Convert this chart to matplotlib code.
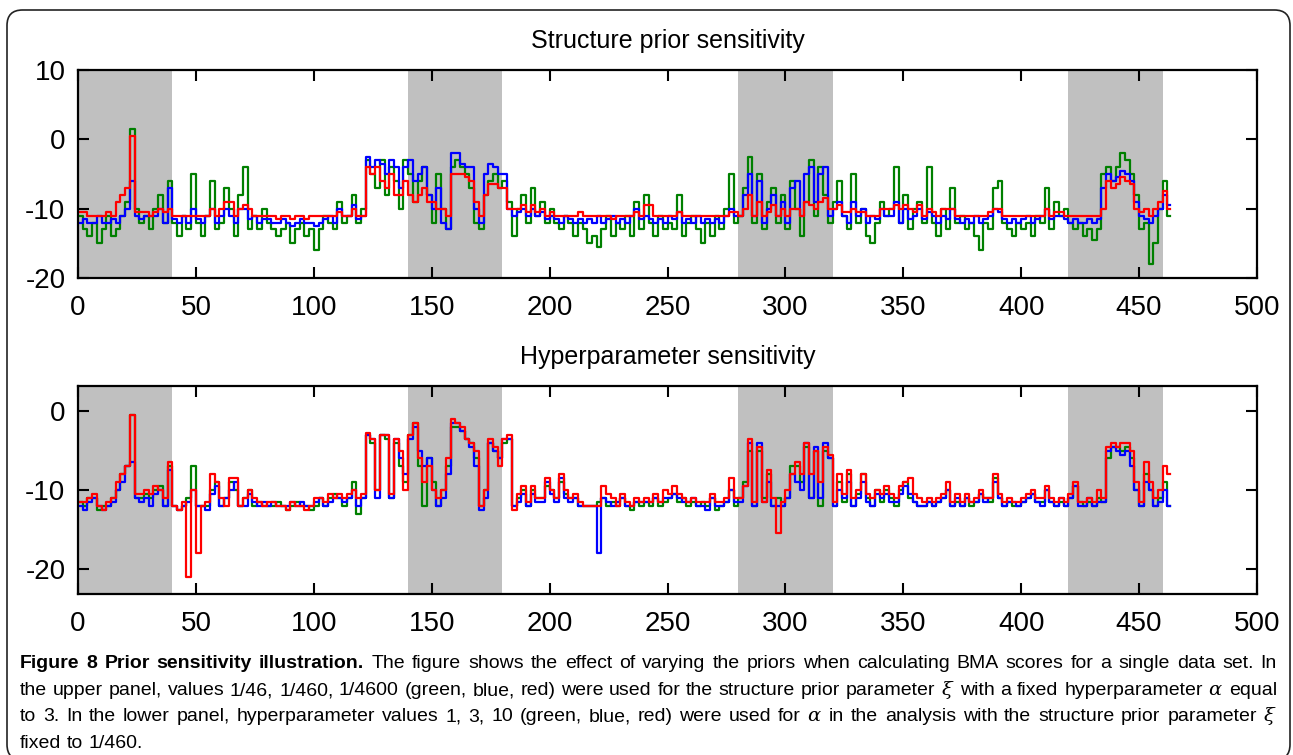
import numpy as np
import matplotlib
matplotlib.use("Agg")
import matplotlib.pyplot as plt
from matplotlib import font_manager as fm
from matplotlib.patches import FancyBboxPatch

# ---------------------------------------------------------------- data
# BMA scores sampled every second position along the sequence
positions = np.arange(1, 464, 2)

# upper panel: structure prior 1/46 (green), 1/460 (blue), 1/4600 (red)
top_green = [
    -11, -13, -14, -12, -15, -13, -11, -14, -13, -11, -9, 1.5, -10, -12, -11, -13, -10, -8, -12, -6,
    -12, -14, -11, -13, -5, -12, -14, -11, -6, -13, -12, -7, -10, -14, -8, -4, -13, -11, -13, -10,
    -12, -13, -14, -13, -12, -15, -13, -12, -14, -13, -16, -13, -11, -12, -13, -9, -12, -11, -8, -12,
    -10, -3, -5, -7, -3, -8, -4, -6, -10, -3, -5, -9, -6, -4, -8, -12, -5, -10, -13, -4,
    -3, -4, -5, -7, -12, -13, -8, -6, -5, -7, -6, -9, -14, -10, -8, -12, -7, -11, -9, -12,
    -10, -12, -13, -11, -12, -14, -12, -13, -15, -14, -15.5, -13, -11, -14, -12, -13, -11, -14, -9, -13,
    -8, -12, -14, -11, -13, -12, -13, -8, -14, -12, -11, -13, -15, -12, -14, -11, -13, -10, -5, -12,
    -11, -7, -2.5, -12, -5, -13, -9, -7, -12, -8, -13, -6, -10, -14, -9, -3, -11, -4, -8, -12,
    -9, -6, -11, -13, -5, -12, -10, -14, -15, -12, -9, -11, -10, -4, -12, -8, -13, -10, -9, -12,
    -4, -12, -14, -10, -13, -7, -12, -11, -13, -12, -14, -16, -12, -13, -7, -6, -12, -13, -14, -12,
    -13, -12, -14, -11, -12, -7, -13, -9, -11, -10, -12, -13, -12, -14, -13, -14.5, -13, -5, -4, -6,
    -4, -2, -3, -5, -8, -13, -12, -18, -15, -10, -6, -11,
]
top_blue = [
    -12, -11.5, -12, -12, -11, -12, -12, -11.5, -12, -11, -10, -6, -11, -11.5, -11, -11, -11, -10, -12, -7,
    -11.5, -12, -11, -12, -10, -11.5, -12, -11, -10, -12, -11, -10, -11, -12, -10, -10, -11.5, -11, -12, -11.5,
    -11.5, -12, -12, -11.5, -12, -12.5, -12, -11.5, -12, -12, -12.5, -12, -11.5, -11, -12, -10, -11, -11, -9.5, -11.5,
    -11, -2.5, -4, -3, -3.5, -5, -3, -4, -7, -4, -3, -6, -5, -4, -8, -10, -7, -12, -13, -2,
    -2, -3.5, -4, -4, -10, -12, -5, -3.5, -4, -5, -5, -10, -11, -10.5, -10, -11, -10, -11, -10.5, -11.5,
    -11, -11.5, -12, -11, -11.5, -12, -11.5, -12, -11.5, -12, -11, -12, -11.5, -11, -12, -11.5, -12, -11, -10, -11.5,
    -11, -11.5, -12, -11.5, -12, -11, -11.5, -10.5, -12, -11.5, -12, -11, -12, -11.5, -12, -11.5, -12, -11, -10, -11,
    -11, -8, -5, -11, -6, -12, -10, -8, -11, -9, -12, -7, -6, -11, -5, -4, -9, -5, -4, -11,
    -10, -9, -11, -12, -9, -11, -10, -12, -11, -11.5, -10, -11, -11, -9, -12, -10, -11.5, -11, -10, -11.5,
    -10.5, -11, -12, -11, -11.5, -10, -11.5, -12, -11.5, -12, -11, -12, -11.5, -11, -10, -10.5, -11.5, -12, -11.5, -12,
    -11.5, -11, -12, -11.5, -11, -10, -11.5, -11, -11, -11.5, -12, -11.5, -12, -12, -11.5, -12, -11.5, -7, -5, -6,
    -5.5, -4.5, -5, -6, -9, -11, -11.5, -12, -11, -10, -8, -9.5,
]
top_red = [
    -10.5, -10.5, -11, -11, -11, -11, -10.5, -11, -9, -8, -7, 0.5, -10.5, -10.5, -10.5, -11, -10.5, -10, -10.5, -10,
    -11, -11, -11, -11, -11, -11, -11, -11, -10, -11, -10, -9, -9, -11, -10, -9.5, -10, -11, -11, -11,
    -11, -11, -11.5, -11, -11, -11.5, -11, -11, -11.5, -11, -11, -11, -11, -11, -11, -10.5, -11, -11, -10, -11,
    -11, -4, -5, -4, -6, -7, -5, -8, -8, -6, -8, -9, -8, -7, -9, -9, -10, -10, -11, -5,
    -5, -5, -5.5, -6, -9, -11, -8, -6.5, -6.5, -7, -7, -10, -10, -10, -9.5, -10.5, -9.5, -10.5, -10, -11,
    -10.5, -11, -11, -11, -11, -11, -10.5, -11, -11, -11, -11, -11, -11, -11.5, -11, -11, -11, -11, -10.5, -11,
    -9.5, -9.5, -11, -11, -11, -11, -11, -10.5, -11, -11, -11, -11, -11, -11, -11, -11, -11, -11, -10.5, -10.5,
    -11, -10, -8, -11, -9, -11, -10.5, -9.5, -11, -10, -11, -10, -10, -11, -9, -9.5, -10, -9, -8.5, -10,
    -10, -9.5, -10.5, -10.5, -10, -10.5, -10.5, -11, -11, -11, -10, -10, -10, -9.5, -10, -9.5, -10, -10.5, -9.5, -11,
    -10, -10.5, -11, -10, -10, -10, -11, -11, -11, -11, -11, -11, -11, -10.5, -10, -10, -11, -11, -11, -11,
    -11, -11, -11, -11, -11, -10, -11, -10.5, -10.5, -11, -11, -11, -11, -11, -11, -11, -11, -10, -6, -7,
    -6.5, -5.5, -6, -6.5, -10, -10.5, -10, -11, -10, -9, -7.5, -10,
]

# lower panel: hyperparameter 1 (green), 3 (blue), 10 (red)
hyp_green = [
    -11.5, -12, -11, -11, -12.5, -12, -12, -11, -10, -8, -7, -0.5, -11, -11, -10.5, -11, -10, -9.5, -12, -7,
    -12, -12.5, -12, -11, -7, -12, -12, -12, -10, -9, -12, -11, -9, -10, -12, -11, -10, -12, -11.5, -12,
    -12, -12, -11.5, -12, -12.5, -12, -11.5, -12, -12, -12.5, -12, -11, -12, -11, -10.5, -11, -12, -11, -9, -13,
    -11, -3, -4, -10, -3, -3.5, -11, -4, -7, -9, -3, -1.5, -7, -12, -6, -9, -12, -10, -7, -2,
    -2, -2.5, -3.5, -4, -6, -12, -10, -4, -5, -6, -4, -3.5, -12, -11, -10, -12, -10, -11, -11, -9.5,
    -10, -11, -9, -10.5, -11, -11, -12, -12, -12, -12, -11.5, -11, -12, -11.5, -12, -11, -12, -12.5, -11.5, -12,
    -11.5, -12, -11, -12, -11.5, -11, -10.5, -11.5, -11, -12, -11.5, -12, -11.5, -12, -11, -12.5, -12, -11.5, -10, -12,
    -11, -9, -5, -12, -5, -11, -8, -12, -11, -12, -11, -7, -7, -9, -4.5, -11, -5, -12, -5, -6,
    -12, -9, -11.5, -8, -12, -10.5, -8, -11, -12, -10, -11.5, -10, -11, -12, -10, -9, -11, -11.5, -12, -12,
    -11.5, -12, -11.5, -11, -10, -12, -11.5, -12, -11, -12, -11.5, -10.5, -11, -11.5, -8.5, -11, -12, -11.5, -12, -12,
    -11.5, -11, -10.5, -11.5, -11.5, -10, -11.5, -12, -11.5, -12, -11, -9.5, -11.5, -12, -11.5, -12, -11, -11.5, -6, -4.5,
    -4.5, -5, -4.5, -6, -10, -12, -8, -10, -12, -11, -9, -12,
]
hyp_blue = [
    -12, -12.5, -11.5, -11, -12, -12.5, -12, -11.5, -10, -9, -7, -6.5, -11, -11.5, -11, -12, -10.5, -10, -12, -7.5,
    -12, -12.5, -12, -11.5, -10, -12, -12, -12.5, -10.5, -9.5, -12, -11, -10, -9, -12, -12, -10.5, -11.5, -12, -11.5,
    -12, -11.5, -12, -12, -12, -11.5, -12, -11.5, -12, -12, -11.5, -11, -12, -11.5, -11, -11, -11.5, -11, -10, -12,
    -11, -3, -3.5, -11, -3, -3, -11, -3.5, -6, -8, -3.5, -2, -5, -7, -6, -10, -12, -11, -8, -1.5,
    -1.5, -2.5, -3.5, -4.5, -7, -12.5, -11, -4, -5, -6, -3.5, -3.5, -12, -11.5, -10.5, -12, -10.5, -11.5, -11.5, -9,
    -10.5, -11.5, -8.5, -11, -11.5, -11, -12, -12, -12, -12, -18, -11, -11.5, -12, -11.5, -11, -12, -12, -11.5, -11.5,
    -11.5, -11.5, -11, -11.5, -11, -11, -10.5, -11, -11.5, -11.5, -11, -12, -12, -12.5, -11, -12, -12, -11.5, -10, -11.5,
    -11.5, -9.5, -4, -12, -4, -11.5, -9, -12, -12, -12, -11, -8, -9, -10, -4, -11, -4.5, -11, -4, -6,
    -12, -10, -11, -9, -12, -11, -9, -11.5, -12, -10.5, -11, -10.5, -11.5, -11.5, -10.5, -9.5, -10.5, -11.5, -12, -12,
    -11.5, -12, -11.5, -11, -10, -12, -11, -12, -11, -11.5, -11.5, -10.5, -11.5, -11, -9, -11, -12, -11.5, -11.5, -12,
    -11.5, -11, -10.5, -11.5, -12, -10, -11.5, -12, -11, -12, -11, -9.5, -12, -12, -11, -12, -11.5, -11.5, -5, -4.5,
    -5, -5.5, -5, -7, -10, -12, -9, -10, -12, -11.5, -10, -12,
]
hyp_red = [
    -11.5, -11.5, -11, -10.5, -12, -12.5, -11.5, -11, -9, -8, -7, -0.5, -10.5, -10.5, -10, -10.5, -9.5, -10, -11, -6.5,
    -12, -12.5, -11.5, -21, -10, -18, -12, -11.5, -8, -9, -11, -12, -8.5, -8.5, -12, -11, -10, -11, -11.5, -12,
    -11.5, -11.5, -12, -12, -12.5, -11.5, -12, -12, -12.5, -12, -11, -11, -11.5, -10.5, -11, -10.5, -11, -10.5, -10, -11,
    -10.5, -2.8, -3.5, -10, -3, -3, -10.5, -3.5, -5, -10, -3, -1.5, -6, -9, -7, -10, -11, -10, -6, -1,
    -1.5, -2, -3.5, -4, -5, -12, -10, -3.5, -4.5, -7, -3.5, -3, -12.5, -10.5, -9.5, -11.5, -9.5, -11, -11, -8.5,
    -10, -11, -8, -10, -11, -10.5, -11.5, -12, -12, -12, -12, -9.5, -10.5, -11, -12, -10.5, -11.5, -12, -11, -11.5,
    -11, -11.5, -10.5, -11.5, -10, -10.5, -9.5, -10.5, -11, -11.5, -11, -11.5, -11.5, -11.5, -10.5, -11.5, -11.5, -11, -8.5, -11,
    -11, -9.5, -3.5, -11.5, -4.5, -11.5, -7.5, -11, -15.5, -11.5, -10, -8, -6.5, -8, -4, -8, -5, -9, -4.5, -5.5,
    -11.5, -8, -10.5, -7.5, -11, -10, -8, -10.5, -11, -10, -10.5, -9.5, -10.5, -11, -9.5, -9, -8.5, -10.5, -11, -11.5,
    -11, -11.5, -11, -10.5, -9, -11.5, -10.5, -11.5, -10.5, -11.5, -11, -10, -11, -11, -8, -10.5, -11.5, -11, -11.5, -11.5,
    -11, -10.5, -10, -11, -11, -9.5, -11, -11.5, -11, -11.5, -10.5, -9, -11.5, -11.5, -11, -11.5, -10, -11, -4.5, -4,
    -4.5, -4, -4, -5, -9, -11.5, -6.5, -9, -11, -10, -7, -8,
]

# shaded sequence blocks
bands = [(0, 40), (140, 180), (280, 320), (420, 460)]

titles = ["Structure prior sensitivity", "Hyperparameter sensitivity"]
x_ticks = list(range(0, 501, 50))
top_yticks = [-20, -10, 0, 10]
bottom_yticks = [-20, -10, 0]

caption_lines = [
    "Figure 8 Prior sensitivity illustration. The figure shows the effect of varying the priors when calculating BMA scores for a single data set. In",
    "the upper panel, values 1/46, 1/460, 1/4600 (green, blue, red) were used for the structure prior parameter ξ with a fixed hyperparameter α equal",
    "to 3. In the lower panel, hyperparameter values 1, 3, 10 (green, blue, red) were used for α in the analysis with the structure prior parameter ξ",
    "fixed to 1/460.",
]
n_bold_words = 5

# ---------------------------------------------------------------- style
names = {f.name for f in fm.fontManager.ttflist}
NARROW = "Liberation Sans Narrow" if "Liberation Sans Narrow" in names else "Liberation Sans"
plt.rcParams["font.family"] = [NARROW, "DejaVu Sans"]
plt.rcParams["mathtext.fontset"] = "dejavuserif"
plt.rcParams["axes.unicode_minus"] = False

GREEN, BLUE, RED, SHADE = "#008000", "#0000ff", "#ff0000", "#c0c0c0"

W, H = 1293, 755
fig = plt.figure(figsize=(W / 100, H / 100), dpi=100)


def px_rect(left, top, right, bottom):
    return [left / W, 1 - bottom / H, (right - left) / W, (bottom - top) / H]


def draw_panel(ax, series, ylim, yticks, title):
    for a, b in bands:
        ax.axvspan(a, b, color=SHADE, lw=0, zorder=0)
    for values, color in zip(series, (GREEN, BLUE, RED)):
        ax.plot(positions, values, color=color, lw=1.6, drawstyle="steps-mid", zorder=2)
    ax.set_xlim(0, 500)
    ax.set_ylim(*ylim)
    ax.set_xticks(x_ticks)
    ax.set_yticks(yticks)
    ax.tick_params(direction="in", length=8, width=1.5, top=True, right=True,
                   labelsize=20, pad=9)
    ax.tick_params(axis="x", pad=12)
    for s in ax.spines.values():
        s.set_linewidth(1.6)
    ax.set_title(title, fontsize=18, pad=16)


ax1 = fig.add_axes(px_rect(78, 70, 1257, 278))
draw_panel(ax1, (top_green, top_blue, top_red), (-20, 10), top_yticks, titles[0])
ax2 = fig.add_axes(px_rect(78, 386, 1257, 594))
draw_panel(ax2, (hyp_green, hyp_blue, hyp_red), (-23.2, 3.2), bottom_yticks, titles[1])

# rounded frame around the figure
frame = FancyBboxPatch((7 / W, 1 - 760 / H), (1290 - 7) / W, (760 - 10) / H,
                       boxstyle="round,pad=0,rounding_size=0.012",
                       transform=fig.transFigure, fill=False, ec="#222222", lw=1.2,
                       mutation_aspect=W / H)
fig.patches.append(frame)

# ---------------------------------------------------------------- caption (justified)
CAP_SIZE = 14
CAP_FONT = [NARROW, "DejaVu Sans"]
renderer = fig.canvas.get_renderer()


def measure(txt, weight):
    t = fig.text(0, 0, txt, fontsize=CAP_SIZE, fontweight=weight, family=CAP_FONT)
    w = t.get_window_extent(renderer).width
    t.remove()
    return w


def styled(word, bold):
    word = word.replace("ξ", r"$\xi$").replace("α", r"$\alpha$")
    return word, ("bold" if bold else "normal")


space_w = measure("a a", "normal") - measure("aa", "normal")
x_left, x_right = 20, 1277
baselines = [668, 695, 721, 748]
for li, line in enumerate(caption_lines):
    words = [styled(w, li == 0 and i < n_bold_words) for i, w in enumerate(line.split(" "))]
    widths = [measure(t, wt) for t, wt in words]
    last = li == len(caption_lines) - 1
    gap = space_w if last else (x_right - x_left - sum(widths)) / (len(words) - 1)
    x = x_left
    for (t, wt), w in zip(words, widths):
        fig.text(x / W, 1 - baselines[li] / H, t, fontsize=CAP_SIZE, fontweight=wt,
                 family=CAP_FONT, ha="left", va="baseline")
        x += w + gap

fig.savefig("out.png", dpi=100)
